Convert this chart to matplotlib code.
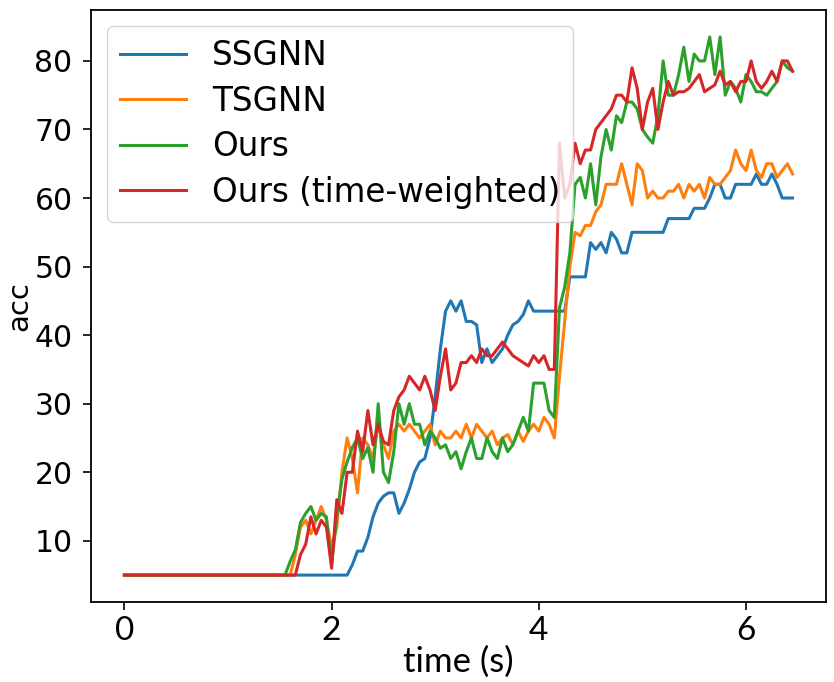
import numpy as np
import matplotlib.pyplot as plt

# time grid (s): start point, then every 0.05 s from 1.55 to 6.45
time = np.concatenate([[0.0], np.round(np.arange(1.55, 6.451, 0.05), 2)])

ssgnn = [5,
  5, 5, 5, 5, 5, 5, 5, 5, 5, 5,
  5, 5, 5, 6.5, 8.5, 8.5, 10.5, 13.5, 15.5, 16.5,
  17, 17, 14, 15.5, 17.5, 20, 21.5, 22, 25, 31,
  38, 43.5, 45, 43.5, 45, 42, 42, 41.5, 36, 38,
  36, 37, 38, 40, 41.5, 42, 43, 45, 43.5, 43.5,
  43.5, 43.5, 43.5, 43.5, 43.5, 48.5, 48.5, 48.5, 48.5, 53.5,
  52.5, 53.5, 52, 55, 54, 52, 52, 55, 55, 55,
  55, 55, 55, 55, 57, 57, 57, 57, 57, 58.5,
  58.5, 58.5, 60, 62, 62, 60, 60, 62, 62, 62,
  62, 63.5, 62, 62, 63.5, 62, 60, 60, 60]

tsgnn = [5,
  5, 5, 8, 12, 13, 11, 13, 15, 13, 9,
  12, 20, 25, 22, 17, 25, 24, 22, 27, 24,
  22, 26, 27, 26, 27, 26, 25, 26, 27, 24,
  26, 25, 25, 26, 25, 27, 25, 27, 26, 25,
  26, 24, 25, 25.5, 24, 26, 24.5, 26, 27, 26,
  28, 27, 25, 34, 42, 50, 55, 54.5, 56, 56,
  58, 59, 62, 62, 62, 65, 62, 59, 65, 64,
  60, 61, 60, 60, 61, 61, 62, 60, 62, 61,
  62, 60, 63, 62, 62, 63, 64, 67, 65, 64,
  67, 64, 63, 65, 65, 63, 64, 65, 63.5]

ours = [5,
  5, 7, 8.7, 12.7, 14, 15, 13, 14, 13.5, 6.5,
  13.5, 19, 21.5, 23.6, 25, 22, 23.6, 20, 30, 20,
  18.5, 23, 30, 27, 30, 27, 27, 24, 26, 25,
  23.5, 24, 22, 23, 20.5, 23, 25, 22, 22, 25,
  23, 22, 25, 23, 24, 26, 28, 26, 33, 33,
  33, 29, 28, 44, 47, 52, 62, 63, 60, 65,
  59, 66, 70, 67, 72, 71, 74, 74, 73, 70,
  68.9, 68, 72, 80, 75, 75, 78, 82, 77, 81,
  80, 80, 83.5, 78, 83.5, 75, 77, 76, 74, 78,
  77, 75.5, 75.5, 75, 76, 77, 80, 79, 78.5]

ours_tw = [5,
  5, 5, 5, 8, 9.5, 13.5, 11, 13, 12, 6,
  16, 14, 20, 20, 26, 23, 29, 24, 27, 24.5,
  24, 29, 31, 32, 34, 33, 32, 34, 32, 29,
  34, 38, 32, 33, 36, 36, 37, 36, 38, 37,
  37, 38, 39, 38, 37, 36.5, 36, 35.5, 37, 36,
  37, 35, 35, 68, 60, 62, 68, 65, 67, 67,
  70, 71, 72, 73, 75, 75, 74, 79, 76, 70,
  74, 76, 70, 74, 77, 75, 75.5, 75.5, 76, 77,
  78, 75.5, 76, 76.5, 78.5, 76.5, 77, 75.5, 77, 77,
  80, 77, 76, 77, 78.5, 77, 80, 80, 78.5]

labels = ['SSGNN', 'TSGNN', 'Ours', 'Ours (time-weighted)']
colors = ['#1f77b4', '#ff7f0e', '#2ca02c', '#d62728']

xfont = ['Lato', 'DejaVu Sans']

fig = plt.figure(figsize=(8.34, 6.82), dpi=100)
ax = fig.add_axes([91/834, 80/682, 735/834, 592/682])

for ys, lab, c in zip([ssgnn, tsgnn, ours, ours_tw], labels, colors):
  ax.plot(time, ys, color=c, lw=2.2, label=lab)

ax.set_yticks([10, 20, 30, 40, 50, 60, 70, 80])
ax.set_xticks([0, 2, 4, 6])
ax.tick_params(length=5.8, width=1.2)
ax.tick_params(axis='y', labelsize=21.5, pad=7.5)
ax.tick_params(axis='x', labelsize=24, pad=4)
for t in ax.get_xticklabels():
  t.set_family(xfont)
for s in ax.spines.values():
  s.set_linewidth(1.3)

ax.set_xlabel('time (s)', fontsize=25, family=xfont, labelpad=0)
ax.set_ylabel('acc', fontsize=21, labelpad=1)
ax.legend(loc='upper left', fontsize=23.5, labelspacing=0.38, borderaxespad=0.5)

fig.savefig('out.png', dpi=100)
